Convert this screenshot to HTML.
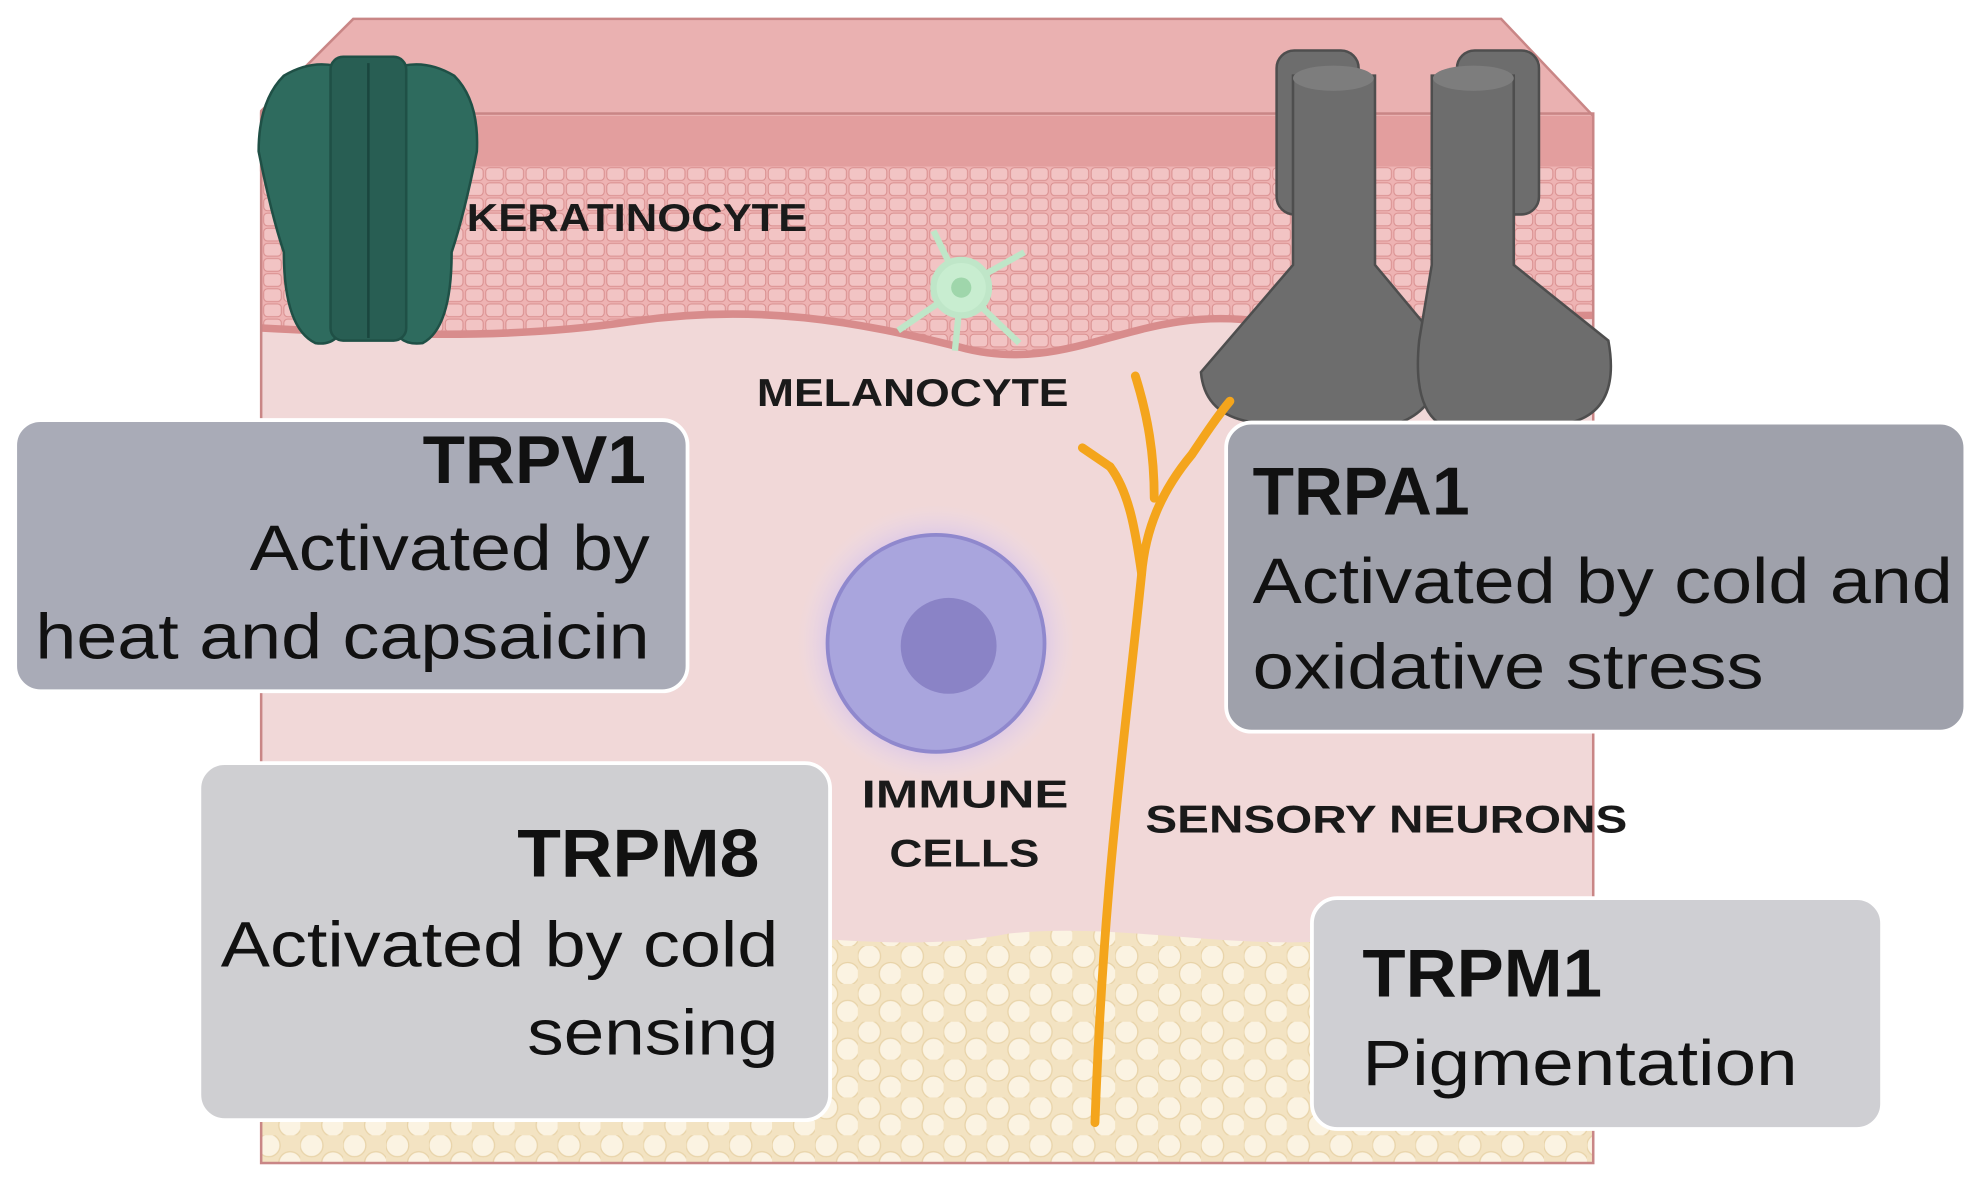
<!DOCTYPE html>
<html><head><meta charset="utf-8"><style>
html,body{margin:0;padding:0;background:#fff;}
svg{display:block;}
text{font-family:"Liberation Sans",sans-serif;}
</style></head><body>
<svg width="1978" height="1187" viewBox="0 0 1568 941" xmlns="http://www.w3.org/2000/svg">
<defs>
<radialGradient id="glow" cx="0.5" cy="0.5" r="0.5">
<stop offset="0.6" stop-color="#b9a4f0" stop-opacity="0.9"/>
<stop offset="1" stop-color="#e6dcf5" stop-opacity="0"/>
</radialGradient>
<pattern id="fat" width="34" height="30" patternUnits="userSpaceOnUse">
<rect width="34" height="30" fill="#f3e3c2"/>
<circle cx="9" cy="8" r="9" fill="#fbf3e2" stroke="#e8d3a8" stroke-width="1"/>
<circle cx="26" cy="22" r="9" fill="#fbf3e2" stroke="#e8d3a8" stroke-width="1"/>
</pattern>
<pattern id="cells" width="16" height="12" patternUnits="userSpaceOnUse">
<rect width="16" height="12" fill="#eeb3b3"/>
<rect x="1" y="1" width="14" height="10" rx="3" fill="#f2c4c4" stroke="#d98f8f" stroke-width="0.8"/>
</pattern>
</defs>
<rect x="207" y="90" width="1056" height="832" fill="#f1d8d8"/>
<polygon points="207,88 280,15 1190,15 1263,92 1263,135 207,135" fill="#eab1b1" stroke="#c98686" stroke-width="2"/>
<rect x="207" y="92" width="1056" height="40" fill="#e39e9e"/>
<path d="M207,132 L1263,132 L1263,250 C1150,250 1100,270 1000,255 C900,240 850,300 760,275 C680,255 600,240 500,255 C400,270 300,265 207,260 Z" fill="url(#cells)"/>
<path d="M207,260 C300,265 400,270 500,255 C600,240 680,255 760,275 C850,300 900,240 1000,255 C1100,270 1150,250 1263,250" fill="none" stroke="#d88c8c" stroke-width="6"/>
<path d="M207,760 C300,740 400,770 500,745 C600,730 700,760 800,740 C900,730 1000,760 1100,740 C1180,730 1230,745 1263,740 L1263,922 L207,922 Z" fill="url(#fat)"/>
<rect x="207" y="90" width="1056" height="832" fill="none" stroke="#c98686" stroke-width="2"/>
<g fill="#2e6b5e" stroke="#1f5046" stroke-width="2">
<path d="M225,60 Q205,80 205,120 Q215,170 225,200 Q225,260 250,272 Q270,275 275,250 L275,55 Q250,45 225,60Z"/>
<path d="M360,60 Q380,80 378,120 Q368,170 358,200 Q358,260 335,272 Q312,275 310,250 L310,55 Q335,45 360,60Z"/>
<rect x="262" y="45" width="60" height="225" rx="10" fill="#285e53"/>
</g>
<line x1="292" y1="50" x2="292" y2="268" stroke="#1a463e" stroke-width="2"/>
<g fill="#6d6d6d" stroke="#4e4e4e" stroke-width="2">
<rect x="1012" y="40" width="65" height="130" rx="14"/>
<rect x="1155" y="40" width="65" height="130" rx="14"/>
<path d="M1025,60 L1090,60 L1090,210 L1140,270 Q1148,320 1110,335 L995,335 Q955,330 952,295 L1025,210 Z"/>
<path d="M1135,60 L1200,60 L1200,210 L1275,270 Q1285,325 1245,335 L1140,335 Q1120,320 1125,270 L1135,210 Z"/>
</g>
<g fill="#7d7d7d"><ellipse cx="1057" cy="62" rx="32" ry="10"/><ellipse cx="1168" cy="62" rx="32" ry="10"/></g>
<g stroke="#bfe6c8" stroke-width="5" fill="#c8edd0">
<line x1="762" y1="228" x2="740" y2="183"/><line x1="762" y1="228" x2="812" y2="200"/><line x1="762" y1="228" x2="712" y2="262"/><line x1="762" y1="228" x2="808" y2="272"/><line x1="762" y1="228" x2="757" y2="278"/>
<circle cx="762" cy="228" r="22"/></g>
<circle cx="762" cy="228" r="8" fill="#9fd6ab"/>
<circle cx="742" cy="510" r="110" fill="url(#glow)"/>
<circle cx="742" cy="510" r="86" fill="#a9a5dd" stroke="#8f88cd" stroke-width="3"/>
<circle cx="752" cy="512" r="38" fill="#8a83c6"/>
<g fill="none" stroke="#f4a51c" stroke-width="7" stroke-linecap="round">
<path d="M868,890 C875,700 890,600 905,455 C908,420 920,390 945,360 C955,345 965,330 975,318"/>
<path d="M905,455 C900,420 895,390 880,370"/>
<path d="M915,395 C915,360 910,330 900,298"/>
<path d="M880,370 L858,355"/>
</g>
<g font-weight="bold" font-size="31" fill="#1a1a1a" lengthAdjust="spacingAndGlyphs">
<text x="370" y="183" textLength="270" lengthAdjust="spacingAndGlyphs">KERATINOCYTE</text>
<text x="600" y="322" textLength="247" lengthAdjust="spacingAndGlyphs">MELANOCYTE</text>
<text x="683" y="640" textLength="164" lengthAdjust="spacingAndGlyphs">IMMUNE</text>
<text x="705" y="687" textLength="119" lengthAdjust="spacingAndGlyphs">CELLS</text>
<text x="908" y="660" textLength="382" lengthAdjust="spacingAndGlyphs">SENSORY NEURONS</text>
</g>
<rect x="12" y="333" width="533" height="215" rx="20" fill="#a9abb7" stroke="#fff" stroke-width="3"/>
<g fill="#111">
<text x="335" y="383" font-size="54" font-weight="bold" textLength="177" lengthAdjust="spacingAndGlyphs">TRPV1</text>
<text x="198" y="452" font-size="51" textLength="317" lengthAdjust="spacingAndGlyphs">Activated by</text>
<text x="28" y="522" font-size="51" textLength="487" lengthAdjust="spacingAndGlyphs">heat and capsaicin</text>
</g>
<rect x="972" y="335" width="586" height="245" rx="20" fill="#9fa1ab" stroke="#fff" stroke-width="3"/>
<g fill="#111">
<text x="993" y="408" font-size="54" font-weight="bold" textLength="172" lengthAdjust="spacingAndGlyphs">TRPA1</text>
<text x="993" y="478" font-size="51" textLength="555" lengthAdjust="spacingAndGlyphs">Activated by cold and</text>
<text x="993" y="546" font-size="51" textLength="405" lengthAdjust="spacingAndGlyphs">oxidative stress</text>
</g>
<rect x="158" y="605" width="500" height="283" rx="20" fill="#cfcfd2" stroke="#fff" stroke-width="3"/>
<g fill="#111">
<text x="410" y="695" font-size="54" font-weight="bold" textLength="192" lengthAdjust="spacingAndGlyphs">TRPM8</text>
<text x="175" y="766" font-size="51" textLength="442" lengthAdjust="spacingAndGlyphs">Activated by cold</text>
<text x="418" y="836" font-size="51" textLength="199" lengthAdjust="spacingAndGlyphs">sensing</text>
</g>
<rect x="1040" y="712" width="452" height="183" rx="20" fill="#cfcfd3" stroke="#fff" stroke-width="3"/>
<g fill="#111">
<text x="1080" y="790" font-size="54" font-weight="bold" textLength="190" lengthAdjust="spacingAndGlyphs">TRPM1</text>
<text x="1080" y="860" font-size="51" textLength="345" lengthAdjust="spacingAndGlyphs">Pigmentation</text>
</g>
</svg>
</body></html>
